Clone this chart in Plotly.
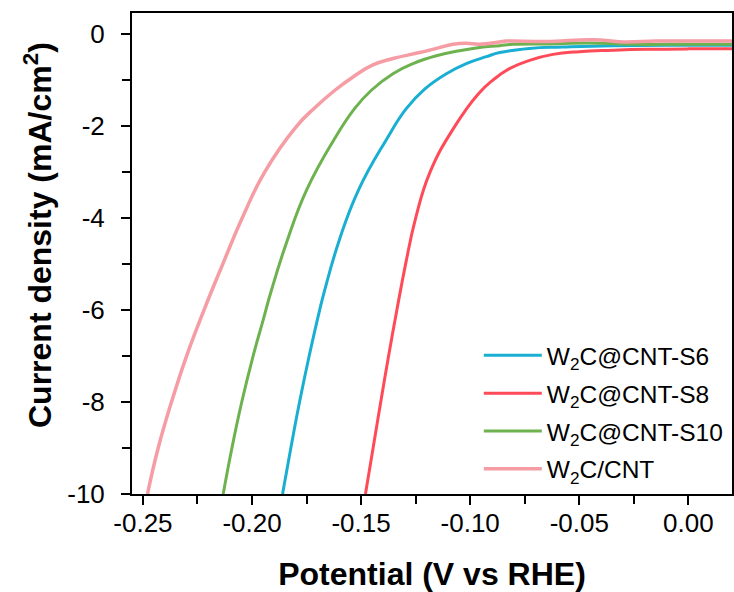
import plotly.graph_objects as go

# ---- data ----
s6_v = [-0.186, -0.1822, -0.1782, -0.1738, -0.1690, -0.1667, -0.1600, -0.1512, -0.1385,
        -0.1293, -0.1210, -0.1109, -0.1018, -0.0926, -0.0865, -0.0728, -0.0576, -0.0347,
        0.0, 0.02]
s6_j = [-10, -9, -8, -7, -6, -5.57, -4.48, -3.39, -2.30, -1.62, -1.20, -0.86, -0.64,
        -0.49, -0.40, -0.31, -0.28, -0.25, -0.24, -0.24]

s8_v = [-0.148, -0.1445, -0.1410, -0.1374, -0.1336, -0.1296, -0.1250, -0.1184, -0.1070,
        -0.0963, -0.0896, -0.082, -0.0728, -0.0621, -0.05, -0.0347, -0.0194, 0.0, 0.02]
s8_j = [-10, -9, -8, -7, -6, -5, -4, -3, -2, -1.3, -1.0, -0.75, -0.57, -0.44, -0.38,
        -0.35, -0.33, -0.32, -0.32]

s10_v = [-0.2132, -0.2092, -0.2047, -0.1995, -0.1949, -0.1911, -0.1838, -0.1750, -0.1625,
         -0.1530, -0.1453, -0.1354, -0.1262, -0.1155, -0.1049, -0.0957, -0.0865, -0.0804,
         -0.060, -0.0453, -0.027, 0.0, 0.02]
s10_j = [-10, -9, -8, -7, -6.22, -5.57, -4.48, -3.39, -2.30, -1.62, -1.22, -0.86, -0.64,
         -0.47, -0.36, -0.29, -0.25, -0.22, -0.21, -0.19, -0.22, -0.22, -0.22]

cnt_v = [-0.2479, -0.243, -0.2369, -0.230, -0.222, -0.2134, -0.2045, -0.1942, -0.1795,
         -0.1712, -0.162, -0.1537, -0.1446, -0.1354, -0.1232, -0.1155, -0.1079, -0.1018,
         -0.0957, -0.0865, -0.0835, -0.0652, -0.0438, -0.030, -0.0148, 0.0, 0.02]
cnt_j = [-10, -9, -8, -7, -6, -5, -4, -3, -2, -1.6, -1.22, -0.93, -0.67, -0.53, -0.40,
         -0.31, -0.22, -0.20, -0.22, -0.17, -0.15, -0.16, -0.12, -0.17, -0.15, -0.15, -0.15]

series_names = ["W<sub>2</sub>C@CNT-S6", "W<sub>2</sub>C@CNT-S8",
                "W<sub>2</sub>C@CNT-S10", "W<sub>2</sub>C/CNT"]
series_colors = ["#1AAFD2", "#FF4A58", "#6DB24F", "#F59CA4"]

x_tick_vals = [-0.25, -0.20, -0.15, -0.10, -0.05, 0.00]
x_tick_labels = ["-0.25", "-0.20", "-0.15", "-0.10", "-0.05", "0.00"]
y_tick_vals = [0, -2, -4, -6, -8, -10]
y_tick_labels = ["0", "-2", "-4", "-6", "-8", "-10"]

x_title = "<b>Potential (V vs RHE)</b>"
y_title = "<b>Current density (mA/cm<sup>2</sup>)</b>"

FONT = "Arial, 'Liberation Sans', sans-serif"

fig = go.Figure()
for i, (v, j, name, color, w) in enumerate(zip(
        [s6_v, s8_v, s10_v, cnt_v], [s6_j, s8_j, s10_j, cnt_j],
        series_names, series_colors, [3, 3, 3, 3.5])):
    fig.add_trace(go.Scatter(x=v, y=j, mode="lines", name=name, legendgroup=f"g{i}",
                             line=dict(color=color, width=w, shape="spline", smoothing=1.3)))

axis_common = dict(showline=True, linecolor="black", linewidth=2, mirror=True,
                   showgrid=False, zeroline=False, ticks="outside", ticklen=9,
                   tickwidth=2, tickcolor="black", automargin=False,
                   tickfont=dict(family=FONT, size=26, color="black"))

fig.update_xaxes(range=[-0.255, 0.02], tickvals=x_tick_vals, ticktext=x_tick_labels,
                 minor=dict(dtick=0.025, tick0=-0.25, ticks="outside", ticklen=8,
                            tickwidth=2, tickcolor="black"),
                 title=dict(text=x_title, standoff=26,
                            font=dict(family=FONT, size=32, color="black")),
                 ticklabelstandoff=-4,
                 **axis_common)
fig.update_yaxes(range=[-10, 0.46], tickvals=y_tick_vals, ticktext=y_tick_labels,
                 minor=dict(dtick=1, tick0=0, ticks="outside", ticklen=8,
                            tickwidth=2, tickcolor="black"),
                 ticklabelstandoff=11,
                 **axis_common)

fig.add_annotation(text=y_title, xref="paper", yref="paper", x=-0.157, y=0.538,
                   xanchor="center", yanchor="middle", textangle=-90, showarrow=False,
                   font=dict(family=FONT, size=32, color="black"))

fig.update_layout(
    width=734, height=592,
    margin=dict(l=132, r=2, t=13, b=98),
    paper_bgcolor="white", plot_bgcolor="white",
    font=dict(family=FONT, color="black"),
    legend=dict(x=0.578, y=0.335, xanchor="left", yanchor="top",
                bgcolor="rgba(0,0,0,0)", borderwidth=0,
                font=dict(family=FONT, size=24.5, color="black"),
                itemwidth=58, tracegroupgap=3),
    showlegend=True,
)

fig.write_html("out.html", config={"displayModeBar": False},
               post_script="document.body.style.margin='0';document.body.style.overflow='hidden';")
